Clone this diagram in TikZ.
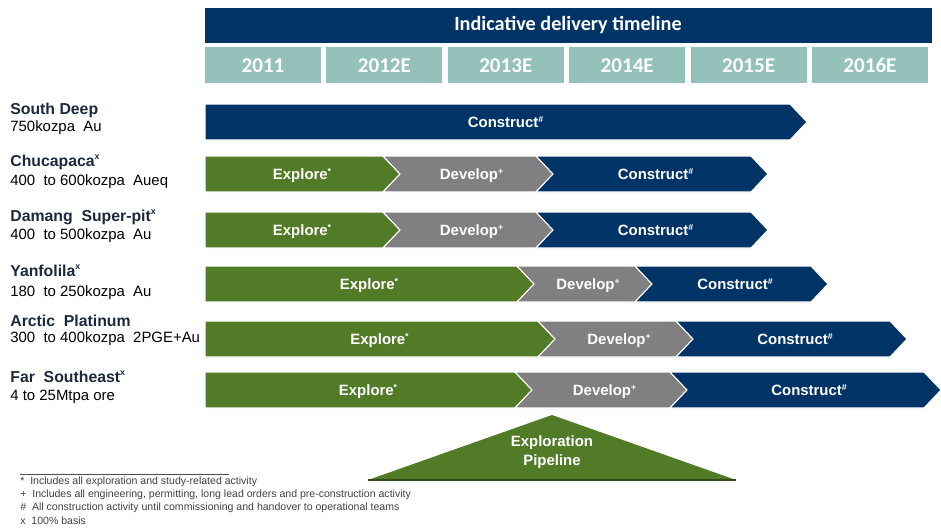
\documentclass[tikz,border=0pt]{standalone}
\usepackage{fontspec}
\setmainfont{Liberation Sans}
\newfontfamily\narrowfont{Carlito}
\usetikzlibrary{positioning}
\definecolor{navy}{RGB}{0,51,102}
\definecolor{leaf}{RGB}{82,123,40}
\definecolor{stone}{RGB}{128,128,128}
\definecolor{teal}{RGB}{148,193,185}
\definecolor{ink}{RGB}{30,40,60}
\newcommand\mk[1]{\textsuperscript{\fontsize{5}{5}\selectfont#1}}
\tikzset{
  barlabel/.style={text=white,font=\bfseries\fontsize{8.5}{10}\selectfont,inner sep=0pt},
  yearlabel/.style={anchor=base,text=white,font=\narrowfont\bfseries\fontsize{12}{14}\selectfont,inner sep=0pt},
  project/.style={anchor=west,text=ink,font=\bfseries\fontsize{9}{11}\selectfont,inner sep=0pt},
  output/.style={anchor=west,text=black,font=\fontsize{8.5}{10}\selectfont,inner sep=0pt},
  footnote/.style={anchor=west,text=black!75,font=\fontsize{6}{7}\selectfont,inner sep=0pt}
}
\begin{document}
\begin{tikzpicture}[x=0.02cm,y=-0.02cm]
        \useasboundingbox (0,0) rectangle (941,528);
        % Timeline header and years
        \fill[navy] (205,8) rectangle (932,43);
        \node[text=white,font=\narrowfont\bfseries\fontsize{11.5}{13}\selectfont] (title) at (568,25) {Indicative delivery timeline};
        \foreach \yr [count=\i] in {2011,2012E,2013E,2014E,2015E,2016E}{
          \fill[teal] ({205+(\i-1)*121.4},47) rectangle ({321+(\i-1)*121.4},83);
          \node[yearlabel] (yr\i) at ({263+(\i-1)*121.4},72) {\yr};
        }
        % Project names
        \node[project] (sd) at (10,110) {South Deep};
        \node[output] (sdout) at (10,128) {750kozpa\ \ Au};
        \node[project] (ch) at (10,162) {Chucapaca\mk{x}};
        \node[output] (chout) at (10,182) {400\ \ to 600kozpa\ \ Aueq};
        \node[project] (dm) at (10,217) {Damang\ \ Super-pit\mk{x}};
        \node[output] (dmout) at (10,236) {400\ \ to 500kozpa\ \ Au};
        \node[project] (yf) at (10,271) {Yanfolila\mk{x}};
        \node[output] (yfout) at (10,293) {180\ \ to 250kozpa\ \ Au};
        \node[project] (ap) at (10,321) {Arctic\ \ Platinum};
        \node[output] (apout) at (10,339) {300\ \ to 400kozpa\ \ 2PGE+Au};
        \node[project] (fs) at (10,377) {Far\ \ Southeast\mk{x}};
        \node[output] (fsout) at (10,397) {4 to 25Mtpa ore};
        % Phase chevrons: top, start, tip, colour, notch, label, name
        \foreach \yt/\xa/\xb/\col/\n/\lab/\nm in {
          104/205/807/navy/0/Construct\mk{\#}/sdC,
          156/205/400/leaf/0/Explore\mk{*}/chE,
          156/383/553/stone/1/Develop\mk{+}/chD,
          156/536/768/navy/1/Construct\mk{\#}/chC,
          212/205/400/leaf/0/Explore\mk{*}/dmE,
          212/383/553/stone/1/Develop\mk{+}/dmD,
          212/536/768/navy/1/Construct\mk{\#}/dmC,
          266/205/534/leaf/0/Explore\mk{*}/yfE,
          266/517/652/stone/1/Develop\mk{+}/yfD,
          266/635/828/navy/1/Construct\mk{\#}/yfC,
          321/205/555/leaf/0/Explore\mk{*}/apE,
          321/538/693/stone/1/Develop\mk{+}/apD,
          321/676/907/navy/1/Construct\mk{\#}/apC,
          372/205/532/leaf/0/Explore\mk{*}/fsE,
          372/515/687/stone/1/Develop\mk{+}/fsD,
          372/670/941/navy/1/Construct\mk{\#}/fsC}{
          \filldraw[fill=\col,draw=white,line width=0.6pt] (\xa,\yt) -- (\xb-17,\yt) -- (\xb,\yt+18)
            -- (\xb-17,\yt+36) -- (\xa,\yt+36) -- (\xa+17*\n,\yt+18) -- cycle;
          \node[barlabel,anchor=base] (\nm) at ({(\xa+\xb)/2+4*\n},\yt+23) {\lab};
        }
        % Exploration pipeline
        \fill[leaf] (552,415) -- (736,480) -- (368,480) -- cycle;
        \draw[leaf!60!black,line width=0.8pt] (368,480) -- (736,480);
        \node[barlabel,align=center] (pipe) at (552,452) {Exploration\\[1pt]Pipeline};
        % Footnotes
        \draw[black!70,line width=0.5pt] (20,474) -- (229,474);
        \node[footnote] (fn1) at (20,482) {*\ \ Includes all exploration and study-related activity};
        \node[footnote] (fn2) at (20,495) {+\ \ Includes all engineering, permitting, long lead orders and pre-construction activity};
        \node[footnote] (fn3) at (20,508) {\#\ \ All construction activity until commissioning and handover to operational teams};
        \node[footnote] (fn4) at (20,521) {x\ \ 100\% basis};
      \end{tikzpicture}
\end{document}
